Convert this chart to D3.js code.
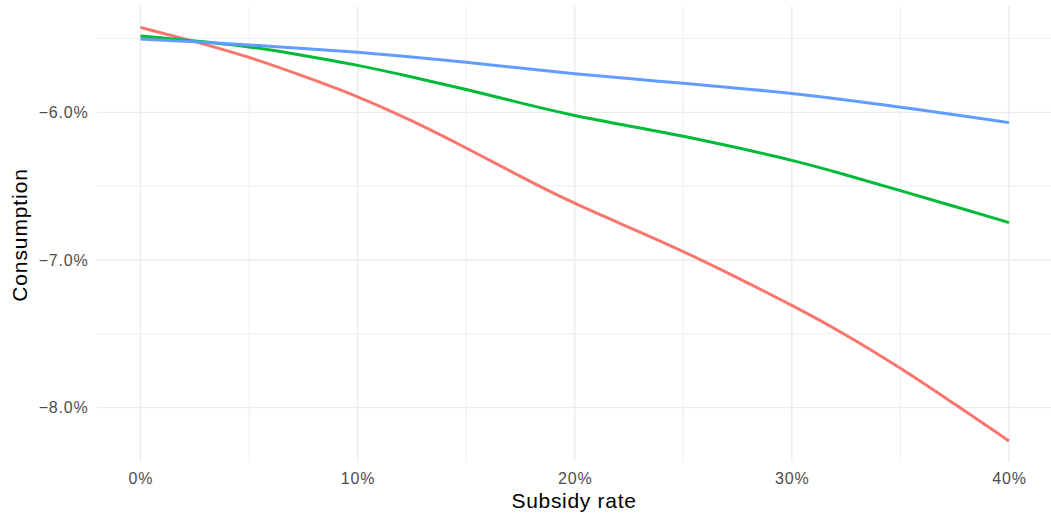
<!DOCTYPE html>
<html>
<head>
<meta charset="utf-8">
<script src="https://cdn.jsdelivr.net/npm/d3@7/dist/d3.min.js"></script>
<style>
  html, body { margin: 0; padding: 0; background: #fff; }
  svg { display: block; font-family: "Liberation Sans", Arial, sans-serif; }
</style>
</head>
<body>
<svg id="chart" width="1051" height="514"></svg>
<script>
// Data (subsidy rate in %, consumption change in %)
const subsidyRate = [0, 2.5, 5, 7.5, 10, 12.5, 15, 17.5, 20, 22.5, 25, 27.5, 30, 32.5, 35, 37.5, 40];
const seriesRed   = [-5.425, -5.52, -5.624, -5.755, -5.89, -6.055, -6.24, -6.435, -6.62, -6.778, -6.94, -7.12, -7.305, -7.505, -7.73, -7.975, -8.225];
const seriesGreen = [-5.483, -5.517, -5.553, -5.615, -5.68, -5.76, -5.845, -5.937, -6.025, -6.092, -6.16, -6.24, -6.323, -6.423, -6.53, -6.637, -6.747];
const seriesBlue  = [-5.504, -5.522, -5.544, -5.567, -5.592, -5.625, -5.661, -5.70, -5.74, -5.772, -5.804, -5.836, -5.871, -5.915, -5.966, -6.015, -6.07];
const seriesColors = ["#F8766D", "#00BA38", "#619CFF"];
const xTicks = [0, 10, 20, 30, 40];
const xMinor = [5, 15, 25, 35];
const yTicks = [-6, -7, -8];
const yMinor = [-5.5, -6.5, -7.5];
const xTitle = "Subsidy rate";
const yTitle = "Consumption";

const svg = d3.select("#chart");
const panel = { left: 97, right: 1051, top: 6, bottom: 462 };

const x = d3.scaleLinear().domain([-2, 42]).range([panel.left, panel.right + 1.4]);
const y = d3.scaleLinear().domain([-5.2804, -8.3676]).range([panel.top, panel.bottom]);

const grid = svg.append("g");
grid.selectAll(".xminor").data(xMinor).join("line")
  .attr("x1", d => x(d)).attr("x2", d => x(d))
  .attr("y1", panel.top).attr("y2", panel.bottom)
  .attr("stroke", "#EBEBEB").attr("stroke-width", 0.8);
grid.selectAll(".yminor").data(yMinor).join("line")
  .attr("x1", panel.left).attr("x2", panel.right)
  .attr("y1", d => y(d)).attr("y2", d => y(d))
  .attr("stroke", "#EBEBEB").attr("stroke-width", 0.8);
grid.selectAll(".xmajor").data(xTicks).join("line")
  .attr("x1", d => x(d)).attr("x2", d => x(d))
  .attr("y1", panel.top).attr("y2", panel.bottom)
  .attr("stroke", "#EBEBEB").attr("stroke-width", 1.3);
grid.selectAll(".ymajor").data(yTicks).join("line")
  .attr("x1", panel.left).attr("x2", panel.right)
  .attr("y1", d => y(d)).attr("y2", d => y(d))
  .attr("stroke", "#EBEBEB").attr("stroke-width", 1.3);

const fontFam = "'Liberation Sans', Arial, sans-serif";

const xAxis = d3.axisBottom(x).tickValues(xTicks).tickSize(0).tickPadding(0)
  .tickFormat(d => d + "%");
const gx = svg.append("g").attr("transform", `translate(0, 472.5)`).call(xAxis);
gx.select(".domain").remove();
gx.selectAll("text").attr("fill", "#4D4D4D").attr("font-size", 16)
  .attr("dy", "0.71em").style("letter-spacing", "0.8px")
  .style("font-family", fontFam);

const yAxis = d3.axisLeft(y).tickValues(yTicks).tickSize(0).tickPadding(0)
  .tickFormat(d => "\u2212" + Math.abs(d).toFixed(1) + "%");
const gy = svg.append("g").attr("transform", `translate(88.5, 0)`).call(yAxis);
gy.select(".domain").remove();
gy.selectAll("text").attr("fill", "#4D4D4D").attr("font-size", 16)
  .style("letter-spacing", "0.8px")
  .style("font-family", fontFam);

const series = [seriesRed, seriesGreen, seriesBlue];
const line = d3.line()
  .x((d, i) => x(subsidyRate[i]))
  .y(d => y(d))
  .curve(d3.curveBasis);
svg.append("g").selectAll("path").data(series).join("path")
  .attr("d", d => line(d))
  .attr("fill", "none")
  .attr("stroke", (d, i) => seriesColors[i])
  .attr("stroke-width", 3)
  .attr("stroke-linecap", "butt");

svg.append("text")
  .attr("x", (panel.left + panel.right) / 2).attr("y", 508)
  .attr("text-anchor", "middle").attr("font-size", 21).attr("fill", "#000")
  .style("letter-spacing", "0.7px")
  .text(xTitle);
svg.append("text")
  .attr("transform", `translate(26.5, ${(panel.top + panel.bottom) / 2 + 1}) rotate(-90)`)
  .attr("text-anchor", "middle").attr("font-size", 21).attr("fill", "#000")
  .style("letter-spacing", "0.9px")
  .text(yTitle);
</script>
</body>
</html>
